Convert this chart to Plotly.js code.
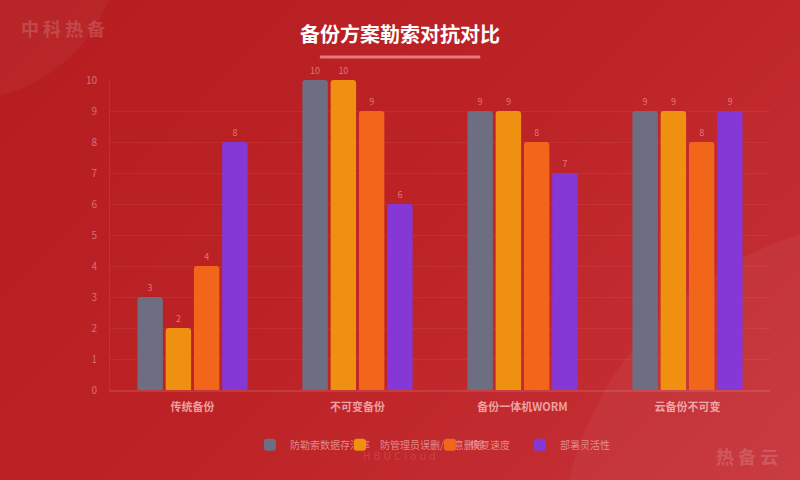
<!DOCTYPE html>
<html>
<head>
<meta charset="utf-8">
<script src="https://cdn.plot.ly/plotly-3.0.1.min.js"></script>
<style>
    html, body {
        margin: 0;
        padding: 0;
        width: 800px;
        height: 480px;
        overflow: hidden;
    }

    body {
        background:
            radial-gradient(circle at -40px -60px, rgba(255,255,255,0.035) 0 160px, transparent 161px),
            radial-gradient(circle at 900px 560px, rgba(255,255,255,0.04) 0 340px, transparent 341px),
            linear-gradient(135deg, #b51d21 0%, #bd2326 50%, #c6333a 100%);
    }

    #chart {
        width: 800px;
        height: 480px;
    }
</style>
</head>
<body>
<div id="chart"></div>
<script>
// 方案分类
const categories = ["传统备份", "不可变备份", "备份一体机WORM", "云备份不可变"];

// 各维度评分
const seriesNames = ["防勒索数据存活率", "防管理员误删/恶意删除", "恢复速度", "部署灵活性"];
const survivalRate = [3, 10, 9, 9];
const adminProtect = [2, 10, 9, 9];
const recoverySpeed = [4, 9, 8, 8];
const deployFlex = [8, 6, 7, 9];

const seriesValues = [survivalRate, adminProtect, recoverySpeed, deployFlex];
const seriesColors = ["#6e6e82", "#ef9010", "#f2661b", "#8538d6"];

const yTicks = [0, 1, 2, 3, 4, 5, 6, 7, 8, 9, 10];

const FONT = "'Noto Sans CJK SC', 'Noto Sans', sans-serif";

const traces = seriesValues.map((values, i) => {
    return {
        type: "bar",
        name: seriesNames[i],
        x: categories,
        y: values,
        text: values.map(v => String(v)),
        textposition: "outside",
        cliponaxis: false,
        textfont: {
            family: FONT,
            size: 9,
            color: "rgba(255,190,190,0.55)"
        },
        marker: {
            color: seriesColors[i],
            cornerradius: 3,
            line: { width: 0 }
        },
        hoverinfo: "x+y+name"
    };
});

const layout = {
    width: 800,
    height: 480,
    paper_bgcolor: "rgba(0,0,0,0)",
    plot_bgcolor: "rgba(0,0,0,0)",

    font: {
        family: FONT,
        color: "rgba(255,200,200,0.5)",
        size: 10
    },

    margin: { t: 80, r: 30, b: 90, l: 110 },

    title: {
        text: "<b>备份方案勒索对抗对比</b>",
        x: 0.5,
        xanchor: "center",
        y: 0.927,
        yref: "container",
        yanchor: "middle",
        font: {
            family: FONT,
            size: 20,
            color: "#ffffff"
        }
    },

    barmode: "group",
    bargap: 0.315,
    bargroupgap: 0.1,

    xaxis: {
        type: "category",
        showgrid: false,
        showline: true,
        linecolor: "rgba(255,255,255,0.1)",
        linewidth: 2,
        ticks: "",
        ticklabelstandoff: 6,
        tickfont: {
            family: FONT,
            size: 11,
            color: "rgba(255,210,210,0.72)",
            weight: "bold"
        }
    },

    yaxis: {
        range: [0, 10],
        tickvals: yTicks,
        showgrid: true,
        gridcolor: "rgba(255,255,255,0.06)",
        zeroline: false,
        showline: true,
        linecolor: "rgba(255,255,255,0.08)",
        ticks: "",
        ticklabelstandoff: 10,
        tickfont: {
            family: FONT,
            size: 10,
            color: "rgba(255,190,190,0.5)"
        }
    },

    showlegend: true,
    legend: {
        orientation: "h",
        x: 0.212,
        xanchor: "left",
        y: -0.177,
        yanchor: "middle",
        entrywidth: 45,
        itemwidth: 30,
        font: {
            family: FONT,
            size: 10,
            color: "rgba(255,200,200,0.6)"
        },
        bgcolor: "rgba(0,0,0,0)"
    },

    shapes: [
        {
            type: "line",
            xref: "paper",
            yref: "paper",
            x0: 0.318,
            x1: 0.561,
            y0: 1.074,
            y1: 1.074,
            line: {
                color: "rgba(255,170,170,0.65)",
                width: 3
            }
        }
    ],

    annotations: [
        {
            text: "<b>中 科 热 备</b>",
            xref: "paper",
            yref: "paper",
            x: -0.138,
            y: 1.168,
            xanchor: "left",
            yanchor: "middle",
            showarrow: false,
            font: {
                family: FONT,
                size: 18,
                color: "rgba(255,255,255,0.18)"
            }
        },
        {
            text: "<b>热 备 云</b>",
            xref: "paper",
            yref: "paper",
            x: 1.015,
            y: -0.213,
            xanchor: "right",
            yanchor: "middle",
            showarrow: false,
            font: {
                family: FONT,
                size: 18,
                color: "rgba(255,255,255,0.18)"
            }
        },
        {
            text: "H B U C l o u d",
            xref: "paper",
            yref: "paper",
            x: 0.439,
            y: -0.213,
            xanchor: "center",
            yanchor: "middle",
            showarrow: false,
            font: {
                family: "'DejaVu Sans', sans-serif",
                size: 10,
                color: "rgba(255,255,255,0.14)"
            }
        }
    ]
};

const config = {
    displayModeBar: false,
    responsive: false
};

Plotly.newPlot("chart", traces, layout, config);
</script>
</body>
</html>
